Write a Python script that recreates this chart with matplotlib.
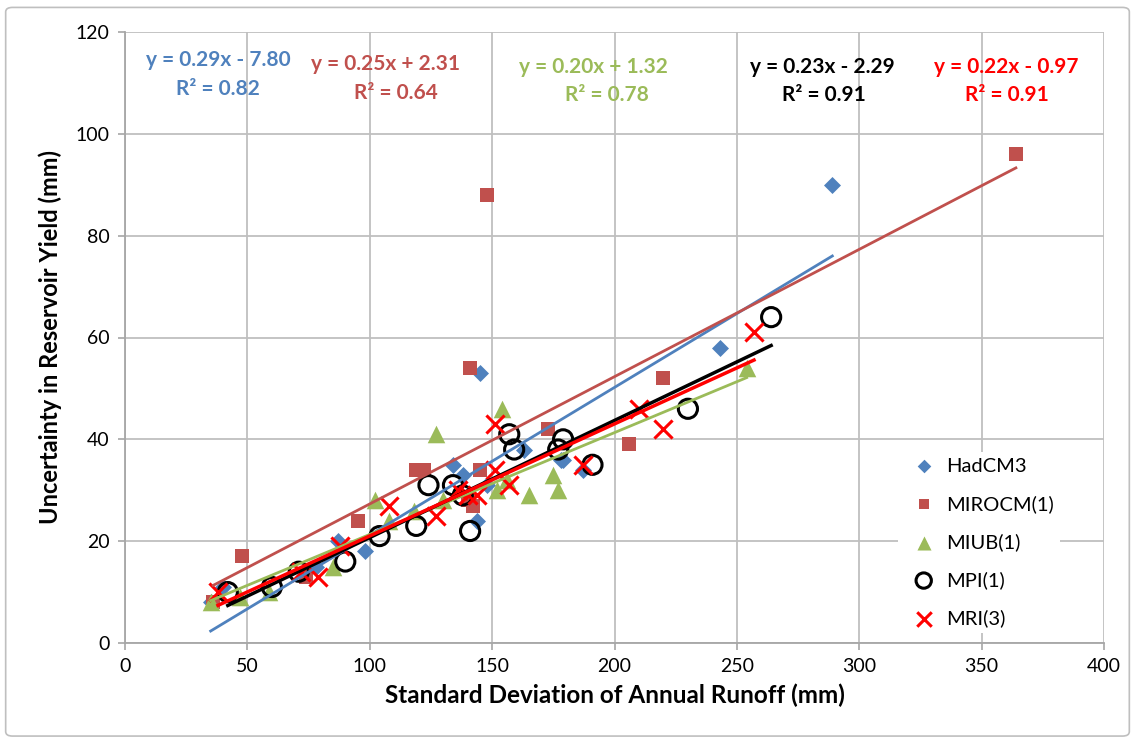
import numpy as np
import matplotlib.pyplot as plt
from matplotlib.patches import FancyBboxPatch

plt.rcParams['font.family'] = ['Lato', 'DejaVu Sans']

# standard deviation of annual runoff (mm) vs uncertainty in reservoir yield (mm)
had_x = [35, 40, 78, 87, 98, 134, 138, 144, 145, 148, 163, 178, 179, 187, 243, 289]
had_y = [8, 11, 15, 20, 18, 35, 33, 24, 53, 31, 38, 36, 36, 34, 58, 90]

miro_x = [36, 48, 74, 95, 119, 122, 140, 142, 141, 145, 148, 173, 206, 220, 364]
miro_y = [8, 17, 13, 24, 34, 34, 28, 27, 54, 34, 88, 42, 39, 52, 96]

miub_x = [35, 47, 59, 85, 102, 108, 118, 127, 130, 152, 154, 156, 165, 175, 177, 254]
miub_y = [8, 9, 10, 15, 28, 24, 26, 41, 28, 30, 46, 32, 29, 33, 30, 54]

mpi_x = [42, 60, 71, 90, 104, 119, 124, 134, 138, 141, 157, 159, 177, 179, 191, 230, 264]
mpi_y = [10, 11, 14, 16, 21, 23, 31, 31, 29, 22, 41, 38, 38, 40, 35, 46, 64]

mri_x = [38, 72, 79, 88, 108, 127, 136, 140, 144, 151, 151, 157, 187, 210, 220, 257]
mri_y = [10, 14, 13, 19, 27, 25, 30, 29, 29, 34, 43, 31, 35, 46, 42, 61]

# trendline coefficients (slope, intercept, r2)
fits = {
    'HadCM3': (0.29, -7.80, 0.82),
    'MIROCM(1)': (0.25, 2.31, 0.64),
    'MIUB(1)': (0.20, 1.32, 0.78),
    'MPI(1)': (0.23, -2.29, 0.91),
    'MRI(3)': (0.22, -0.97, 0.91),
}

blue = '#4F81BD'
brown = '#C0504D'
green = '#9BBB59'
red = '#FF0000'

fig = plt.figure(figsize=(11.35, 7.42), dpi=100)
ax = fig.add_axes([125 / 1135, 1 - 643 / 742, (1104 - 125) / 1135, (643 - 32) / 742])

# outer chart frame
fig.patches.append(FancyBboxPatch((0.005, 0.008), 0.99, 0.982,
                                  boxstyle='round,pad=0,rounding_size=0.006',
                                  transform=fig.transFigure, fill=False,
                                  edgecolor='#BFBFBF', linewidth=1.2))

series = [
    ('HadCM3', had_x, had_y, dict(marker='D', s=75, color=blue, linewidths=0)),
    ('MIROCM(1)', miro_x, miro_y, dict(marker='s', s=95, color=brown, linewidths=0)),
    ('MIUB(1)', miub_x, miub_y, dict(marker='^', s=160, color=green, linewidths=0)),
    ('MPI(1)', mpi_x, mpi_y, dict(marker='o', s=190, facecolors='none', edgecolors='black', linewidths=2.2)),
    ('MRI(3)', mri_x, mri_y, dict(marker='x', s=170, color=red, linewidths=2.2)),
]
line_cols = {'HadCM3': blue, 'MIROCM(1)': brown, 'MIUB(1)': green, 'MPI(1)': 'black', 'MRI(3)': red}
line_w = {'HadCM3': 2, 'MIROCM(1)': 2, 'MIUB(1)': 2, 'MPI(1)': 2.5, 'MRI(3)': 2.5}

for name, xs, ys, kw in series:
    ax.scatter(xs, ys, label=name, zorder=3, **kw)

for name, xs, ys, kw in series:
    m, b, r2 = fits[name]
    xx = np.array([min(xs), max(xs)])
    ax.plot(xx, m * xx + b, color=line_cols[name], lw=line_w[name], zorder=4)

ax.set_xlim(0, 400)
ax.set_ylim(0, 120)
ax.set_xticks(np.arange(0, 401, 50))
ax.set_yticks(np.arange(0, 121, 20))
ax.grid(True, color='#BFBFBF', lw=1.3, zorder=0)
ax.set_axisbelow(True)
for s in ['top', 'right']:
    ax.spines[s].set_visible(False)
for s in ['left', 'bottom']:
    ax.spines[s].set_color('#A6A6A6')
    ax.spines[s].set_linewidth(1.3)
ax.tick_params(axis='both', length=5, width=1.2, color='#A6A6A6', labelsize=14, pad=6)

ax.set_xlabel('Standard Deviation of Annual Runoff (mm)', fontsize=17.5, fontweight='bold', labelpad=6)
ax.set_ylabel('Uncertainty in Reservoir Yield (mm)', fontsize=17, fontweight='bold', labelpad=10)

# regression equations
eq_pos = [
    ('HadCM3', blue, 38, 114.5, 38, 108.8),
    ('MIROCM(1)', brown, 106.5, 113.8, 110.5, 108.0),
    ('MIUB(1)', green, 191.5, 113.2, 197, 107.6),
    ('MPI(1)', 'black', 285, 113.2, 285.5, 107.6),
    ('MRI(3)', red, 360, 113.2, 360.5, 107.6),
]
for name, col, x1, y1, x2, y2 in eq_pos:
    m, b, r2 = fits[name]
    sign = '+' if b >= 0 else '-'
    ax.text(x1, y1, f'y = {m:.2f}x {sign} {abs(b):.2f}', color=col, fontsize=15,
            fontweight='bold', ha='center', va='center')
    ax.text(x2, y2, f'R² = {r2:.2f}', color=col, fontsize=15,
            fontweight='bold', ha='center', va='center')

leg = ax.legend(loc='lower right', bbox_to_anchor=(0.965, 0.0), frameon=True,
                framealpha=1, edgecolor='none', fontsize=14.5, labelspacing=1.0,
                handletextpad=0.1, markerscale=0.8, borderpad=0.3)
leg.get_frame().set_linewidth(0)

fig.savefig('out.png', dpi=100)
